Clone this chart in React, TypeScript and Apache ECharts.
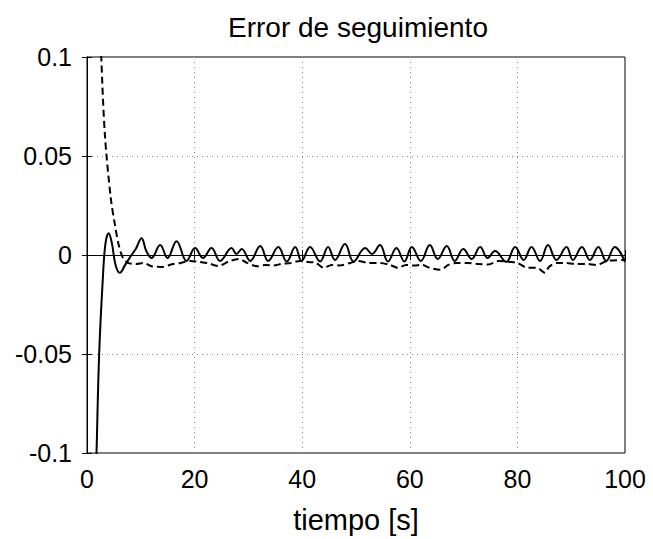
import React, { useEffect, useRef } from "react";
import * as echarts from "echarts";

const solidTime = [1.37, 1.77, 2.26, 2.95, 3.44, 4.03, 4.62, 5.31, 6.1, 7.09, 8.27, 9.06, 10.14, 11.02, 12.01, 13.59, 14.97, 16.64, 18.51, 20.09, 21.56, 23.14, 24.72, 26.88, 27.77, 28.76, 30.33, 32.2, 33.68, 35.55, 37.13, 38.7, 39.89, 41.46, 43.33, 44.81, 46.09, 47.96, 49.54, 51.71, 52.99, 54.46, 55.94, 57.52, 58.99, 60.37, 62.05, 63.72, 65.2, 66.87, 68.35, 69.93, 71.5, 73.08, 74.46, 75.84, 77.91, 79.58, 81.16, 82.63, 84.21, 85.69, 87.26, 89.13, 90.32, 91.99, 93.47, 95.05, 96.52, 98.1, 100];
const solidValue = [-0.14, -0.1, -0.05, -0.0115, 0.006, 0.011, 0.006, -0.005, -0.009, -0.005, 0.0, 0.003, 0.0085, 0.002, -0.0015, 0.005, -0.0015, 0.007, -0.003, 0.0035, -0.0015, 0.0035, -0.003, 0.0035, 0.0005, 0.003, -0.003, 0.0045, -0.003, 0.004, -0.0033, 0.004, -0.003, 0.004, -0.0033, 0.004, -0.0025, 0.0055, -0.0033, 0.0035, 0.0005, 0.005, -0.0033, 0.0035, -0.0033, 0.004, -0.003, 0.005, -0.002, 0.0045, -0.003, 0.003, -0.002, 0.004, -0.0015, 0.002, -0.0035, 0.004, -0.0025, 0.004, -0.003, 0.005, -0.0025, 0.004, -0.0025, 0.004, -0.0025, 0.004, -0.003, 0.004, -0.0035];

const dashedTime = [2.16, 2.65, 3.34, 4.43, 5.21, 5.9, 6.69, 7.58, 9.06, 10.53, 12.01, 13.98, 15.95, 17.43, 19.2, 20.88, 22.35, 24.32, 26.59, 28.26, 29.74, 31.71, 33.19, 34.67, 36.14, 37.92, 39.59, 41.07, 42.55, 44.02, 45.5, 46.98, 48.95, 50.43, 52.4, 54.37, 56.34, 57.81, 59.29, 60.77, 62.25, 63.72, 65.69, 67.17, 68.65, 70.62, 72.59, 74.56, 76.53, 78.5, 79.98, 81.95, 83.62, 85.1, 85.89, 87.36, 88.84, 90.81, 92.78, 94.75, 96.72, 100];
const dashedValue = [0.14, 0.1, 0.06, 0.0285, 0.015, 0.005, -0.0015, -0.004, -0.0045, -0.004, -0.0057, -0.006, -0.0045, -0.004, -0.003, -0.0035, -0.004, -0.0055, -0.003, -0.002, -0.004, -0.0057, -0.005, -0.0053, -0.0045, -0.004, -0.003, -0.0035, -0.004, -0.0065, -0.005, -0.0053, -0.004, -0.003, -0.004, -0.004, -0.005, -0.0065, -0.005, -0.0053, -0.005, -0.0065, -0.0075, -0.005, -0.004, -0.004, -0.0045, -0.0048, -0.003, -0.0035, -0.004, -0.0065, -0.0065, -0.009, -0.006, -0.004, -0.004, -0.0045, -0.0045, -0.005, -0.003, -0.0025];

const xTicks = [0, 20, 40, 60, 80, 100];
const yTicks = [-0.1, -0.05, 0, 0.05, 0.1];

const FONT = "Liberation Sans, Arial, sans-serif";

export default function App() {
  const ref = useRef<HTMLDivElement>(null);
  useEffect(() => {
    if (!ref.current) return;
    const chart = echarts.init(ref.current, null, { renderer: "svg" });
    const solid = solidTime.map((t, i) => [t, solidValue[i]]);
    const dashed = dashedTime.map((t, i) => [t, dashedValue[i]]);
    const gridLine = { show: true, lineStyle: { color: "#888", type: [1, 4] as any, width: 1 } };
    chart.setOption({
      animation: false,
      backgroundColor: "#fff",
      title: {
        text: "Error de seguimiento",
        left: 353,
        textAlign: "center",
        top: 8,
        textStyle: { fontFamily: FONT, fontSize: 28, fontWeight: "normal", color: "#000" },
      },
      grid: { left: 87, right: 28, top: 57, bottom: 81, show: true, borderColor: "#000", borderWidth: 1, backgroundColor: "#fff" },
      xAxis: [
        {
          type: "value",
          min: xTicks[0],
          max: xTicks[xTicks.length - 1],
          interval: 20,
          name: "tiempo [s]",
          nameLocation: "middle",
          nameGap: 52,
          nameTextStyle: { fontFamily: FONT, fontSize: 29, color: "#000" },
          axisLine: { show: true, lineStyle: { color: "#000", width: 1 } },
          axisTick: { show: true, inside: true, length: 5, lineStyle: { color: "#000" } },
          axisLabel: { fontFamily: FONT, fontSize: 25, color: "#000", margin: 13 },
          splitLine: gridLine,
        },
        {
          type: "value",
          position: "top",
          min: xTicks[0],
          max: xTicks[xTicks.length - 1],
          interval: 20,
          axisLine: { show: true, lineStyle: { color: "#000", width: 1 } },
          axisTick: { show: true, inside: true, length: 5, lineStyle: { color: "#000" } },
          axisLabel: { show: false },
          splitLine: { show: false },
        },
      ],
      yAxis: [
        {
          type: "value",
          min: yTicks[0],
          max: yTicks[yTicks.length - 1],
          interval: 0.05,
          axisLine: { show: true, lineStyle: { color: "#000", width: 1 } },
          axisTick: { show: true, inside: true, length: 5, lineStyle: { color: "#000" } },
          axisLabel: {
            fontFamily: FONT,
            fontSize: 25,
            color: "#000",
            margin: 15,
            formatter: (v: number) => String(Math.round(v * 100) / 100),
          },
          splitLine: gridLine,
        },
        {
          type: "value",
          position: "right",
          min: yTicks[0],
          max: yTicks[yTicks.length - 1],
          interval: 0.05,
          axisLine: { show: true, lineStyle: { color: "#000", width: 1 } },
          axisTick: { show: true, inside: true, length: 5, lineStyle: { color: "#000" } },
          axisLabel: { show: false },
          splitLine: { show: false },
        },
      ],
      series: [
        {
          type: "line",
          data: solid,
          showSymbol: false,
          smooth: 0.4,
          clip: true,
          lineStyle: { color: "#000", width: 2 },
          z: 3,
        },
        {
          type: "line",
          data: dashed,
          showSymbol: false,
          smooth: 0.3,
          clip: true,
          lineStyle: { color: "#000", width: 2, type: [7, 4] },
          z: 3,
        },
      ],
    });
    return () => chart.dispose();
  }, []);
  return <div ref={ref} style={{ width: 653, height: 539, position: "absolute", left: 0, top: 0 }} />;
}
